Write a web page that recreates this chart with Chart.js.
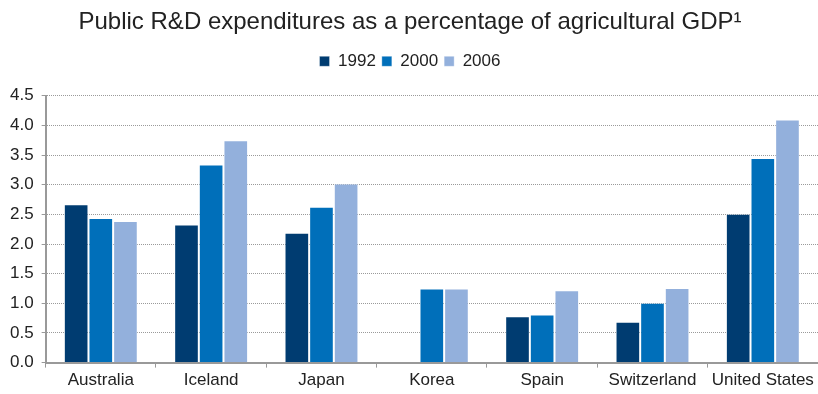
<!DOCTYPE html>
<html>
<head>
<meta charset="utf-8">
<script src="https://cdn.jsdelivr.net/npm/chart.js@4.4.0/dist/chart.umd.min.js"></script>
<style>
  body { margin: 0; background: #fff; }
  #wrap { width: 818px; height: 394px; }
</style>
</head>
<body>
<div id="wrap"><canvas id="rdChart" width="818" height="394"></canvas></div>
<script>
// countries along the x axis
var countries = ['Australia', 'Iceland', 'Japan', 'Korea', 'Spain', 'Switzerland', 'United States'];

// public R&D spend, % of agricultural GDP (Korea has no 1992 figure)
var years = ['1992', '2000', '2006'];
var y1992 = [2.67, 2.33, 2.19, null, 0.78, 0.69, 2.51];
var y2000 = [2.44, 3.34, 2.63, 1.25, 0.81, 1.01, 3.45];
var y2006 = [2.39, 3.75, 3.02, 1.25, 1.22, 1.26, 4.10];

var colors = ['#003c71', '#006fba', '#93b0dc'];

var fontFam = '"Liberation Sans", Arial, Helvetica, sans-serif';

function series(label, values, color) {
  return {
    label: label,
    data: values,
    backgroundColor: color,
    borderColor: 'rgba(255,255,255,0.35)',
    borderWidth: 1,
    categoryPercentage: 0.67,
    barPercentage: 1.0
  };
}

// push the plot down a bit below the legend
var legendGap = {
  id: 'legendGap',
  beforeInit: function (chart) {
    var fit = chart.legend.fit;
    chart.legend.fit = function () {
      fit.bind(chart.legend)();
      this.height += 16;
    };
  }
};

document.addEventListener('DOMContentLoaded', function () {
  var ctx = document.getElementById('rdChart').getContext('2d');
  new Chart(ctx, {
    type: 'bar',
    data: {
      labels: countries,
      datasets: [
        series(years[0], y1992, colors[0]),
        series(years[1], y2000, colors[1]),
        series(years[2], y2006, colors[2])
      ]
    },
    plugins: [legendGap],
    options: {
      responsive: false,
      animation: false,
      layout: { padding: { left: 2, right: 0, top: 6, bottom: 0 } },
      plugins: {
        tooltip: { enabled: false },
        title: {
          display: true,
          text: 'Public R&D expenditures as a percentage of agricultural GDP\u00b9',
          color: '#222',
          font: { family: fontFam, size: 24, weight: 'normal' },
          padding: { top: 2, bottom: 10 }
        },
        legend: {
          display: true,
          position: 'top',
          labels: {
            color: '#222',
            boxWidth: 10,
            boxHeight: 10,
            padding: 6,
            font: { family: fontFam, size: 17 }
          }
        }
      },
      scales: {
        x: {
          offset: true,
          grid: {
            offset: true,
            drawOnChartArea: false,
            drawTicks: true,
            tickLength: 5,
            color: '#999',
            tickColor: '#999'
          },
          border: { display: true, color: '#999', width: 2 },
          ticks: {
            color: '#222',
            padding: 3,
            maxRotation: 0,
            font: { family: fontFam, size: 17 }
          }
        },
        y: {
          min: 0,
          max: 4.5,
          grid: {
            color: '#9a9a9a',
            tickColor: '#999',
            tickLength: 4,
            lineWidth: 1
          },
          border: { display: true, color: '#999', width: 2, dash: [1, 1] },
          ticks: {
            stepSize: 0.5,
            color: '#222',
            padding: 8,
            font: { family: fontFam, size: 17 },
            callback: function (v) { return v.toFixed(1); }
          }
        }
      }
    }
  });
});
</script>
</body>
</html>
